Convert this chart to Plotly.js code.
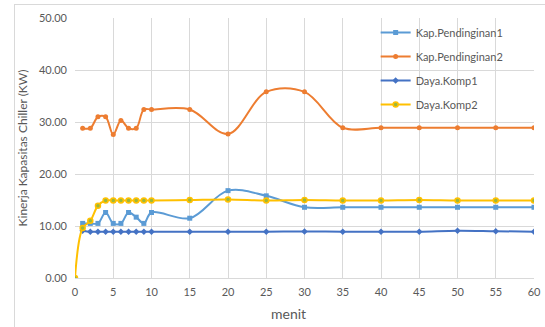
<!DOCTYPE html>
<html>
<head>
<meta charset="utf-8">
<script src="https://cdn.plot.ly/plotly-3.0.1.min.js"></script>
<style>
  html, body { margin: 0; padding: 0; background: #fff; overflow: hidden; }
  #frame { position: absolute; left: 14px; top: 4px; width: 700px; height: 500px;
           border: 1px solid #d9d9d9; box-sizing: border-box; }
  #chart { position: absolute; left: 0; top: 0; width: 545px; height: 327px; }
</style>
</head>
<body>
<div id="frame"></div>
<div id="chart"></div>
<script>
// Minutes of measurement
const menit = [0, 1, 2, 3, 4, 5, 6, 7, 8, 9, 10, 15, 20, 25, 30, 35, 40, 45, 50, 55, 60];

// Chiller cooling capacity and compressor power (kW); null = no reading at minute 0
const kapPendinginan1 = [null, 10.5, 10.5, 10.5, 12.6, 10.5, 10.5, 12.6, 11.7, 10.5, 12.6, 11.5, 16.8, 15.8, 13.6, 13.6, 13.6, 13.6, 13.6, 13.6, 13.6];
const kapPendinginan2 = [null, 28.8, 28.8, 31.0, 31.0, 27.6, 30.3, 28.8, 28.8, 32.4, 32.4, 32.4, 27.7, 35.8, 35.8, 28.9, 28.9, 28.9, 28.9, 28.9, 28.9];
const dayaKomp1 = [null, 9.1, 8.9, 8.9, 8.9, 8.9, 8.9, 8.9, 8.9, 8.9, 8.9, 8.9, 8.9, 8.9, 8.95, 8.9, 8.9, 8.9, 9.1, 9.0, 8.9];
const dayaKomp2 = [0, 9.6, 11.0, 13.9, 14.9, 14.9, 14.9, 14.9, 14.9, 14.9, 14.9, 15.0, 15.1, 14.9, 15.0, 14.9, 14.9, 15.0, 14.9, 14.9, 14.9];

const seriesNames = ['Kap.Pendinginan1', 'Kap.Pendinginan2', 'Daya.Komp1', 'Daya.Komp2'];
const xTicks = [0, 5, 10, 15, 20, 25, 30, 35, 40, 45, 50, 55, 60];
const yTicks = [0, 10, 20, 30, 40, 50];
const xTitle = 'menit';
const yTitle = 'Kinerja Kapasitas Chiller (KW)';

function series(name, y, color, symbol, size, markerFill, group) {
  return {
    x: menit, y: y, name: name, type: 'scatter', mode: 'lines+markers',
    legendgroup: group, connectgaps: false,
    line: { color: color, width: 2, shape: 'spline', smoothing: 1 },
    marker: { symbol: symbol, size: size, color: markerFill || color,
              line: { color: color, width: markerFill ? 1.5 : 0 } }
  };
}

const traces = [
  series(seriesNames[0], kapPendinginan1, '#5B9BD5', 'square', 5, null, 'a'),
  series(seriesNames[1], kapPendinginan2, '#ED7D31', 'circle', 5, null, 'b'),
  series(seriesNames[2], dayaKomp1, '#4472C4', 'diamond', 5, null, 'c'),
  series(seriesNames[3], dayaKomp2, '#FFC000', 'circle', 5, '#9DB83A', 'd')
];

const fam = 'Lato, "Open Sans", sans-serif';
const grey = '#595959';
const tickFont = { family: fam, size: 11, color: grey };

const layout = {
  width: 545, height: 327,
  margin: { l: 75, r: 10.5, t: 18.3, b: 49.3, pad: 0 },
  paper_bgcolor: 'rgba(0,0,0,0)',
  plot_bgcolor: 'rgba(0,0,0,0)',
  showlegend: true,
  legend: {
    x: 0.655, y: 1.0, xanchor: 'left', yanchor: 'top',
    bgcolor: 'rgba(0,0,0,0)', traceorder: 'grouped', tracegroupgap: 5,
    font: { family: fam, size: 11, color: grey }
  },
  xaxis: {
    range: [0, 60], tickvals: xTicks, ticktext: xTicks.map(String),
    showgrid: true, gridcolor: '#d9d9d9', gridwidth: 1,
    zeroline: false, showline: true, linecolor: '#d9d9d9', mirror: false,
    ticks: '', tickfont: tickFont, ticklabelstandoff: 4
  },
  yaxis: {
    range: [0, 50], tickvals: yTicks, tickformat: '.2f',
    showgrid: true, gridcolor: '#d9d9d9', gridwidth: 1,
    zeroline: false, showline: false,
    ticks: '', tickfont: tickFont, ticklabelstandoff: 7,
    title: { text: yTitle, font: { family: fam, size: 12, color: grey }, standoff: 8 }
  },
  annotations: [{
    text: xTitle, xref: 'paper', yref: 'paper', x: 0.465, y: -0.135,
    xanchor: 'center', yanchor: 'middle', showarrow: false,
    font: { family: fam, size: 14, color: grey }
  }]
};

Plotly.newPlot('chart', traces, layout, { displayModeBar: false, staticPlot: true });
</script>
</body>
</html>
